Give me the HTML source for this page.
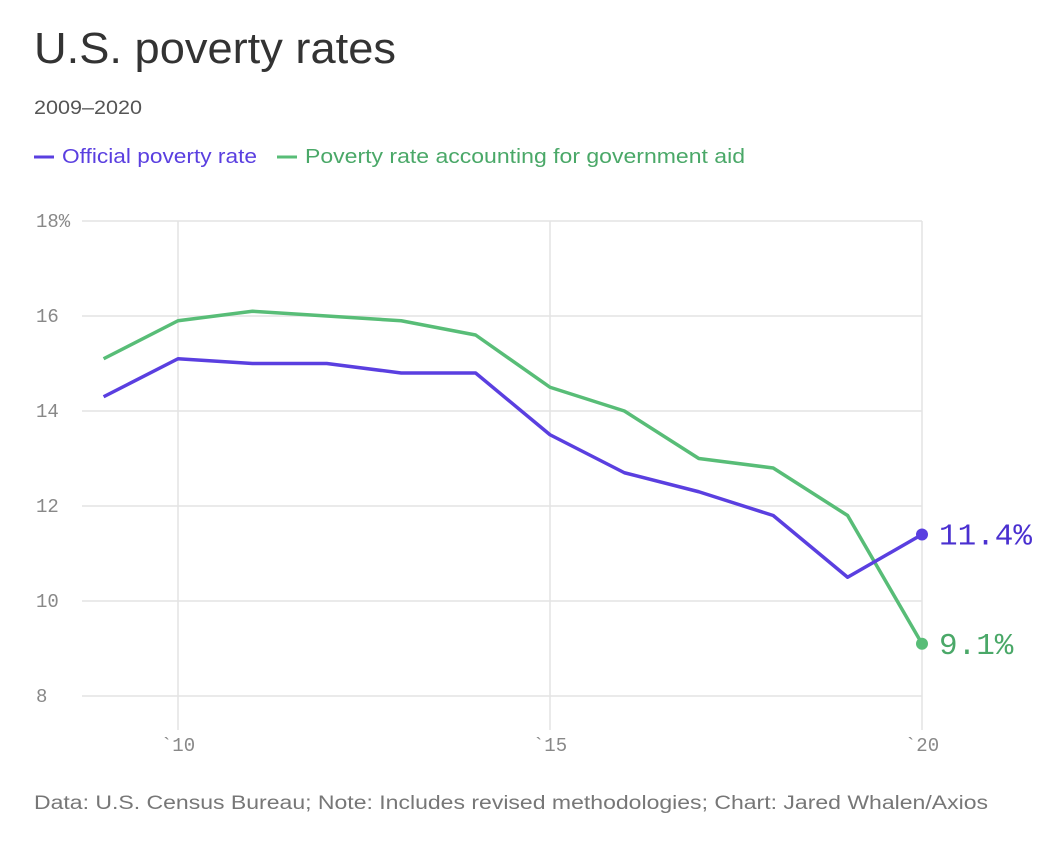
<!DOCTYPE html>
<html><head><meta charset="utf-8"><style>
body{margin:0;background:#fff;width:1050px;height:854px;overflow:hidden;font-family:"Liberation Sans",sans-serif}
</style></head><body>
<svg width="1050" height="854">
<text x="34" y="63" font-size="44" fill="#333" textLength="362" lengthAdjust="spacingAndGlyphs">U.S. poverty rates</text>
<text x="34" y="114" font-size="19" fill="#555" textLength="108" lengthAdjust="spacingAndGlyphs">2009–2020</text>
<g>
<line x1="34" y1="157" x2="54" y2="157" stroke="#5a3fe0" stroke-width="3"/>
<text x="62" y="163" font-size="20" fill="#5a3fe0" textLength="195" lengthAdjust="spacingAndGlyphs">Official poverty rate</text>
<line x1="277" y1="157" x2="297" y2="157" stroke="#58bd77" stroke-width="3"/>
<text x="305" y="163" font-size="20" fill="#4aa868" textLength="440" lengthAdjust="spacingAndGlyphs">Poverty rate accounting for government aid</text>
</g>
<g id="grid"></g><g id="series"></g>
<text x="34" y="809" font-size="19" fill="#777" textLength="954" lengthAdjust="spacingAndGlyphs">Data: U.S. Census Bureau; Note: Includes revised methodologies; Chart: Jared Whalen/Axios</text>
</svg>
<script>
const years=[2009,2010,2011,2012,2013,2014,2015,2016,2017,2018,2019,2020];
const official=[14.3,15.1,15.0,15.0,14.8,14.8,13.5,12.7,12.3,11.8,10.5,11.4];
const aid=[15.1,15.9,16.1,16.0,15.9,15.6,14.5,14.0,13.0,12.8,11.8,9.1];
const yTicks=[8,10,12,14,16,18];
const yTickLabels=["8","10","12","14","16","18%"];
const xTicks=[2010,2015,2020];
const xTickLabels=["`10","`15","`20"];
const NS="http://www.w3.org/2000/svg";
const x=v=>178+(v-2010)*74.4;
const y=v=>696-(v-8)*47.5;
function mk(t,a,p){const e=document.createElementNS(NS,t);for(const k in a)e.setAttribute(k,a[k]);p.appendChild(e);return e;}
const g=document.getElementById('grid'),s=document.getElementById('series');
yTicks.forEach((t,i)=>{
 const l=mk('line',{x1:82,x2:922,y1:y(t),y2:y(t),stroke:'#e3e3e3','stroke-width':1.5},g);
 
 
 const tx=mk('text',{x:36,y:y(t)+6,'font-size':19,fill:'#888','font-family':'Liberation Mono, monospace'},g);
 tx.textContent=yTickLabels[i];
 
 
});
xTicks.forEach((t,i)=>{
 const l=mk('line',{x1:x(t),x2:x(t),y1:y(18),y2:730,stroke:'#e3e3e3','stroke-width':1.5},g);
 
 
 const tx=mk('text',{x:x(t),y:751,'font-size':19,fill:'#888','text-anchor':'middle','font-family':'Liberation Mono, monospace'},g);
 tx.textContent=xTickLabels[i];
 
 
});
function series(vals,col,tcol,name){
 const p=mk('polyline',{points:vals.map((v,i)=>x(years[i])+','+y(v)).join(' '),fill:'none',stroke:col,'stroke-width':3.5,'stroke-linejoin':'round'},s);
 
 
 const n=vals.length-1;
 const c=mk('circle',{cx:x(years[n]),cy:y(vals[n]),r:6,fill:col},s);
 
 
 const t=mk('text',{x:x(years[n])+17,y:y(vals[n])+10,'font-size':31,fill:tcol,'font-family':'Liberation Mono, monospace'},s);
 t.textContent=vals[n].toFixed(1)+'%';
 
 
}
series(aid,'#58bd77','#4aa868','aid');
series(official,'#5a3fe0','#4a30d0','official');
</script>
</body></html>
